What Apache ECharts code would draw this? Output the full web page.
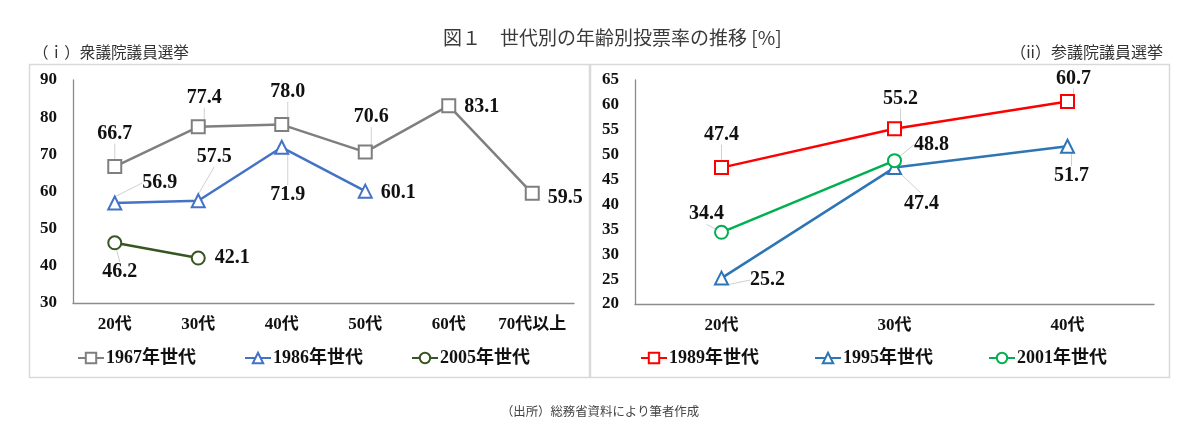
<!DOCTYPE html>
<html>
<head>
<meta charset="utf-8">
<script src="https://cdn.jsdelivr.net/npm/echarts@6/dist/echarts.min.js"></script>
<style>
html,body{margin:0;padding:0;background:#fff;}
#chart{width:1200px;height:443px;}
</style>
</head>
<body>
<div id="chart"></div>
<script>
// ---- data ----
var leftCategories = ['20代', '30代', '40代', '50代', '60代', '70代以上'];
var rightCategories = ['20代', '30代', '40代'];
var gen1967 = [66.7, 77.4, 78.0, 70.6, 83.1, 59.5];
var gen1986 = [56.9, 57.5, 71.9, 60.1];
var gen2005 = [46.2, 42.1];
var gen1989 = [47.4, 55.2, 60.7];
var gen1995 = [25.2, 47.4, 51.7];
var gen2001 = [34.4, 48.8];
var leftYTicks = {min: 30, max: 90, interval: 10};
var rightYTicks = {min: 20, max: 65, interval: 5};

// ---- label styling (label centre relative to its marker, px; leader line on/off) ----
var off1967 = [[0,-33],[6,-29],[6,-33],[6,-35],[33,1],[33,4]];
var line1967 = [1,1,1,1,0,0];
var off1986 = [[45,-20],[16,-44],[6,48],[33,2]];
var line1986 = [1,1,1,0];
var off2005 = [[5,29],[34,0]];
var line2005 = [1,0];
var off1989 = [[0,-33],[6,-30],[6,-23]];
var line1989 = [1,1,1];
var off1995 = [[46,2],[27,36],[4,30]];
var line1995 = [1,1,1];
var off2001 = [[-15,-18],[37,-16]];
var line2001 = [1,1];

var serif = "'Liberation Serif','Times New Roman','Noto Sans CJK JP',serif";
var gothic = "'Noto Sans CJK JP','Noto Sans',sans-serif";

function mkSeries(name, data, color, symbol, offs, lines, xi) {
  var items = data.map(function (v, i) {
    return {value: v, labelLine: {show: !!lines[i]}};
  });
  return {
    name: name,
    type: 'line',
    xAxisIndex: xi,
    yAxisIndex: xi,
    data: items,
    symbol: symbol,
    symbolSize: 13,
    showAllSymbol: true,
    connectNulls: false,
    lineStyle: {color: color, width: 2.5},
    itemStyle: {color: color, borderColor: color, borderWidth: 2.5},
    label: {
      show: true,
      position: 'inside',
      color: '#111',
      fontFamily: serif,
      fontWeight: 'bold',
      fontSize: 20,
      formatter: function (p) { return Number(p.value).toFixed(1); }
    },
    labelLine: {show: true, lineStyle: {color: '#d0d0d0', width: 1}},
    labelLayout: function (p) {
      var o = offs[p.dataIndex] || [0, 0];
      return {dx: o[0], dy: o[1]};
    },
    emphasis: {disabled: true},
    z: 3
  };
}

var axisLabelY = {color: '#111', fontFamily: serif, fontWeight: 'bold', fontSize: 17, margin: 16};
var axisLabelX = {color: '#111', fontFamily: serif, fontWeight: 'bold', fontSize: 17, margin: 13, interval: 0};
var axisLineStyle = {show: true, lineStyle: {color: '#8c8c8c', width: 1.3}};

var option = {
  animation: false,
  backgroundColor: '#fff',
  title: [
    {text: '図１　世代別の年齢別投票率の推移 [%]', left: 438, top: 23,
     textStyle: {fontFamily: gothic, fontSize: 19, fontWeight: 'normal', color: '#3a3a3a'}},
    {text: '（ｉ）衆議院議員選挙', left: 28, top: 39,
     textStyle: {fontFamily: gothic, fontSize: 15.6, fontWeight: 'normal', color: '#333'}},
    {text: '（ii）参議院議員選挙', right: 32, top: 39,
     textStyle: {fontFamily: gothic, fontSize: 16, fontWeight: 'normal', color: '#333'}},
    {text: '（出所）総務省資料により筆者作成', left: 'center', top: 400,
     textStyle: {fontFamily: gothic, fontSize: 12.4, fontWeight: 'normal', color: '#444'}}
  ],
  graphic: [
    {type: 'rect', shape: {x: 29.5, y: 64.5, width: 560, height: 313},
     style: {fill: 'none', stroke: '#d9d9d9', lineWidth: 1.5}, z: -1},
    {type: 'rect', shape: {x: 590.5, y: 64.5, width: 579, height: 313},
     style: {fill: 'none', stroke: '#d9d9d9', lineWidth: 1.5}, z: -1}
  ],
  legend: [
    {left: 72, top: 344, itemGap: 48, itemWidth: 26, itemHeight: 13,
     data: ['1967年世代', '1986年世代', '2005年世代'],
     textStyle: {fontFamily: serif, fontWeight: 'bold', fontSize: 18, color: '#111', padding: [0,0,0,-3]}},
    {left: 635, top: 344, itemGap: 55, itemWidth: 26, itemHeight: 13,
     data: ['1989年世代', '1995年世代', '2001年世代'],
     textStyle: {fontFamily: serif, fontWeight: 'bold', fontSize: 18, color: '#111', padding: [0,0,0,-3]}}
  ],
  grid: [
    {left: 73, right: 626, top: 80, bottom: 140, containLabel: false},
    {left: 635, right: 46, top: 80, bottom: 139, containLabel: false}
  ],
  xAxis: [
    {type: 'category', gridIndex: 0, data: leftCategories, boundaryGap: true,
     axisLine: axisLineStyle, axisTick: {show: false}, axisLabel: axisLabelX, splitLine: {show: false}},
    {type: 'category', gridIndex: 1, data: rightCategories, boundaryGap: true,
     axisLine: axisLineStyle, axisTick: {show: false}, axisLabel: axisLabelX, splitLine: {show: false}}
  ],
  yAxis: [
    {type: 'value', gridIndex: 0, min: leftYTicks.min, max: leftYTicks.max, interval: leftYTicks.interval,
     axisLine: axisLineStyle, axisTick: {show: false}, axisLabel: axisLabelY, splitLine: {show: false}},
    {type: 'value', gridIndex: 1, min: rightYTicks.min, max: rightYTicks.max, interval: rightYTicks.interval,
     axisLine: axisLineStyle, axisTick: {show: false}, axisLabel: axisLabelY, splitLine: {show: false}}
  ],
  series: [
    mkSeries('1967年世代', gen1967, '#7f7f7f', 'emptyRect', off1967, line1967, 0),
    mkSeries('1986年世代', gen1986, '#4472c4', 'emptyTriangle', off1986, line1986, 0),
    mkSeries('2005年世代', gen2005, '#375623', 'emptyCircle', off2005, line2005, 0),
    mkSeries('1989年世代', gen1989, '#ff0000', 'emptyRect', off1989, line1989, 1),
    mkSeries('1995年世代', gen1995, '#2e75b6', 'emptyTriangle', off1995, line1995, 1),
    mkSeries('2001年世代', gen2001, '#00b050', 'emptyCircle', off2001, line2001, 1)
  ]
};

var chart = echarts.init(document.getElementById('chart'), null, {renderer: 'canvas'});
chart.setOption(option);
</script>
</body>
</html>
